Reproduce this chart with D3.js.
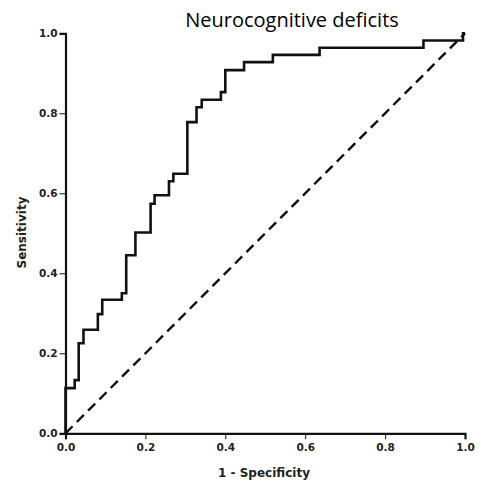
<!DOCTYPE html>
<html>
<head>
<meta charset="utf-8">
<script src="https://cdn.jsdelivr.net/npm/d3@7"></script>
<style>
  body { margin: 0; background: #fff; }
  .tick text { font-family: "DejaVu Sans", sans-serif; font-weight: bold; font-size: 10.5px; fill: #222; }
</style>
</head>
<body>
<div id="chart"></div>
<script>
// ROC step points: 1 - specificity and sensitivity
var fpr  = [0, 0, 0.023, 0.033, 0.045, 0.081, 0.092, 0.141, 0.152, 0.175, 0.213, 0.223,
            0.259, 0.270, 0.305, 0.328, 0.341, 0.389, 0.400, 0.447, 0.519, 0.636, 0.896, 0.995, 1.0]
var sens = [0, 0.113, 0.133, 0.225, 0.259, 0.298, 0.334, 0.350, 0.445, 0.502, 0.574, 0.595,
            0.630, 0.649, 0.778, 0.815, 0.834, 0.853, 0.908, 0.928, 0.946, 0.964, 0.982, 1.0, 1.0]
var refLine = [0, 1]
var ticks = [0, 0.2, 0.4, 0.6, 0.8, 1.0]

var title = "Neurocognitive deficits"
var xTitle = "1 - Specificity"
var yTitle = "Sensitivity"

var width = 481
var height = 488

var svg = d3.select("#chart")
    .append("svg")
    .attr("width", width)
    .attr("height", height)

var x = d3.scaleLinear().domain([0, 1]).range([65.5, 465])
var y = d3.scaleLinear().domain([0, 1]).range([433.3, 33.3])

// axes
var xAxis = svg.append("g")
    .attr("transform", "translate(0," + y(0) + ")")
    .call(d3.axisBottom(x).tickValues(ticks).tickFormat(d3.format(".1f")).tickSizeOuter(0).tickSize(6).tickPadding(4))
var yAxis = svg.append("g")
    .attr("transform", "translate(" + x(0) + ",0)")
    .call(d3.axisLeft(y).tickValues(ticks).tickFormat(d3.format(".1f")).tickSizeOuter(0).tickSize(6).tickPadding(2))

svg.selectAll(".domain").style("stroke", "#111").style("stroke-width", 2.2)
svg.selectAll(".tick line").style("stroke", "#111").style("stroke-width", 1)

// reference diagonal
svg.append("line")
    .attr("x1", x(refLine[0])).attr("y1", y(refLine[0]))
    .attr("x2", x(refLine[1])).attr("y2", y(refLine[1]))
    .style("stroke", "#111")
    .style("stroke-width", 2.4)
    .style("stroke-dasharray", "10,6")

// ROC curve
var points = fpr.map(function(d, i) { return [d, sens[i]] })
var line = d3.line()
    .x(function(d) { return x(d[0]) })
    .y(function(d) { return y(d[1]) })
    .curve(d3.curveStepAfter)

svg.append("path")
    .datum(points)
    .attr("d", line)
    .style("fill", "none")
    .style("stroke", "#111")
    .style("stroke-width", 2.6)

// titles
svg.append("text")
    .attr("x", 292)
    .attr("y", 27)
    .attr("text-anchor", "middle")
    .style("font-family", "'Open Sans', sans-serif")
    .style("font-size", "20px")
    .style("fill", "#000")
    .text(title)

svg.append("text")
    .attr("x", 264)
    .attr("y", 477)
    .attr("text-anchor", "middle")
    .style("font-family", "'DejaVu Sans', sans-serif")
    .style("font-weight", "bold")
    .style("font-size", "12px")
    .style("fill", "#222")
    .text(xTitle)

svg.append("text")
    .attr("transform", "translate(26," + 232.5 + ") rotate(-90)")
    .attr("text-anchor", "middle")
    .style("font-family", "'DejaVu Sans', sans-serif")
    .style("font-weight", "bold")
    .style("font-size", "12px")
    .style("fill", "#222")
    .text(yTitle)
</script>
</body>
</html>
